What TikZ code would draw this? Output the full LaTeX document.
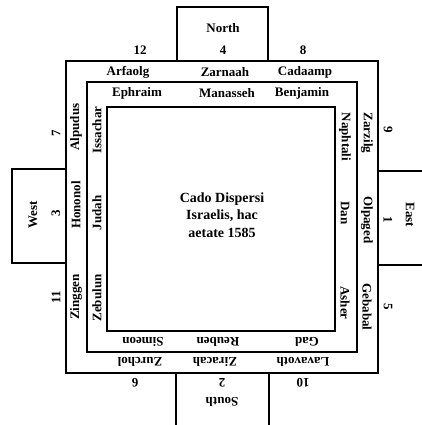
\documentclass[tikz,border=0pt]{standalone}
\usepackage{fontspec}
\setmainfont{Liberation Serif}
\begin{document}
\begin{tikzpicture}[x=1pt,y=-1pt,
  lab/.style={font=\fontsize{13}{14}\selectfont\bfseries, inner sep=0pt},
  left/.style={lab, rotate=90},
  right/.style={lab, rotate=-90},
  down/.style={lab, rotate=180},
  frame/.style={line width=1.4pt}]
\useasboundingbox (0,0) rectangle (422,425);
% squares
\draw[frame] (66,61) rectangle (378,373);
\draw[frame] (87,82) rectangle (357,352);
\draw[frame] (107,107) rectangle (335,331);
% direction boxes
\draw[frame] (177,61) -- (177,7) -- (268,7) -- (268,61);
\draw[frame] (66,169) -- (12,169) -- (12,263) -- (66,263);
\draw[frame] (176,373) -- (176,425);
\draw[frame] (269,373) -- (269,425);
\draw[frame] (378,171) -- (422,171);
\draw[frame] (378,265) -- (422,265);
% directions
\node[lab] (north) at (223,28) {North};
\node[left] (west) at (33,215) {West};
\node[down] (south) at (222,402) {South};
\node[right] (east) at (410,215) {East};
% numbers
\node[lab] (n12) at (140,50) {12};
\node[lab] (n4) at (223,50) {4};
\node[lab] (n8) at (303,50) {8};
\node[left] (n7) at (56,133) {7};
\node[left] (n3) at (56,213) {3};
\node[left] (n11) at (56,297) {11};
\node[right] (n9) at (388,130) {9};
\node[right] (n1) at (388,220) {1};
\node[right] (n5) at (388,307) {5};
\node[down] (n6) at (135,383) {6};
\node[down] (n2) at (222,383) {2};
\node[down] (n10) at (303,383) {10};
% outer ring names
\node[lab] (o1) at (128,72) {Arfaolg};
\node[lab] (o2) at (225,72) {Zarnaah};
\node[lab] (o3) at (305,72) {Cadaamp};
\node[right] (o4) at (367,133) {Zarzilg};
\node[right] (o5) at (367,220) {Olpaged};
\node[right] (o6) at (367,307) {Gebabal};
\node[down] (o7) at (303,362) {Lavavoth};
\node[down] (o8) at (215,362) {Ziracah};
\node[down] (o9) at (140,362) {Zurchol};
\node[left] (o10) at (76,297) {Zinggen};
\node[left] (o11) at (76,205) {Hononol};
\node[left] (o12) at (76,127) {Alpudus};
% inner ring tribes
\node[lab] (t1) at (137,93) {Ephraim};
\node[lab] (t2) at (227,93) {Manasseh};
\node[lab] (t3) at (302,93) {Benjamin};
\node[right] (t4) at (345,137) {Naphtali};
\node[right] (t5) at (345,213) {Dan};
\node[right] (t6) at (345,303) {Asher};
\node[down] (t7) at (307,342) {Gad};
\node[down] (t8) at (218,342) {Reuben};
\node[down] (t9) at (143,342) {Simeon};
\node[left] (t10) at (97,298) {Zebulun};
\node[left] (t11) at (97,213) {Judah};
\node[left] (t12) at (97,130) {Issachar};
% centre
\node[lab, align=center, font=\fontsize{14}{17.5}\selectfont\bfseries] (centre) at (222,215) {Cado Dispersi\\Israelis, hac\\aetate 1585};
\end{tikzpicture}
\end{document}
